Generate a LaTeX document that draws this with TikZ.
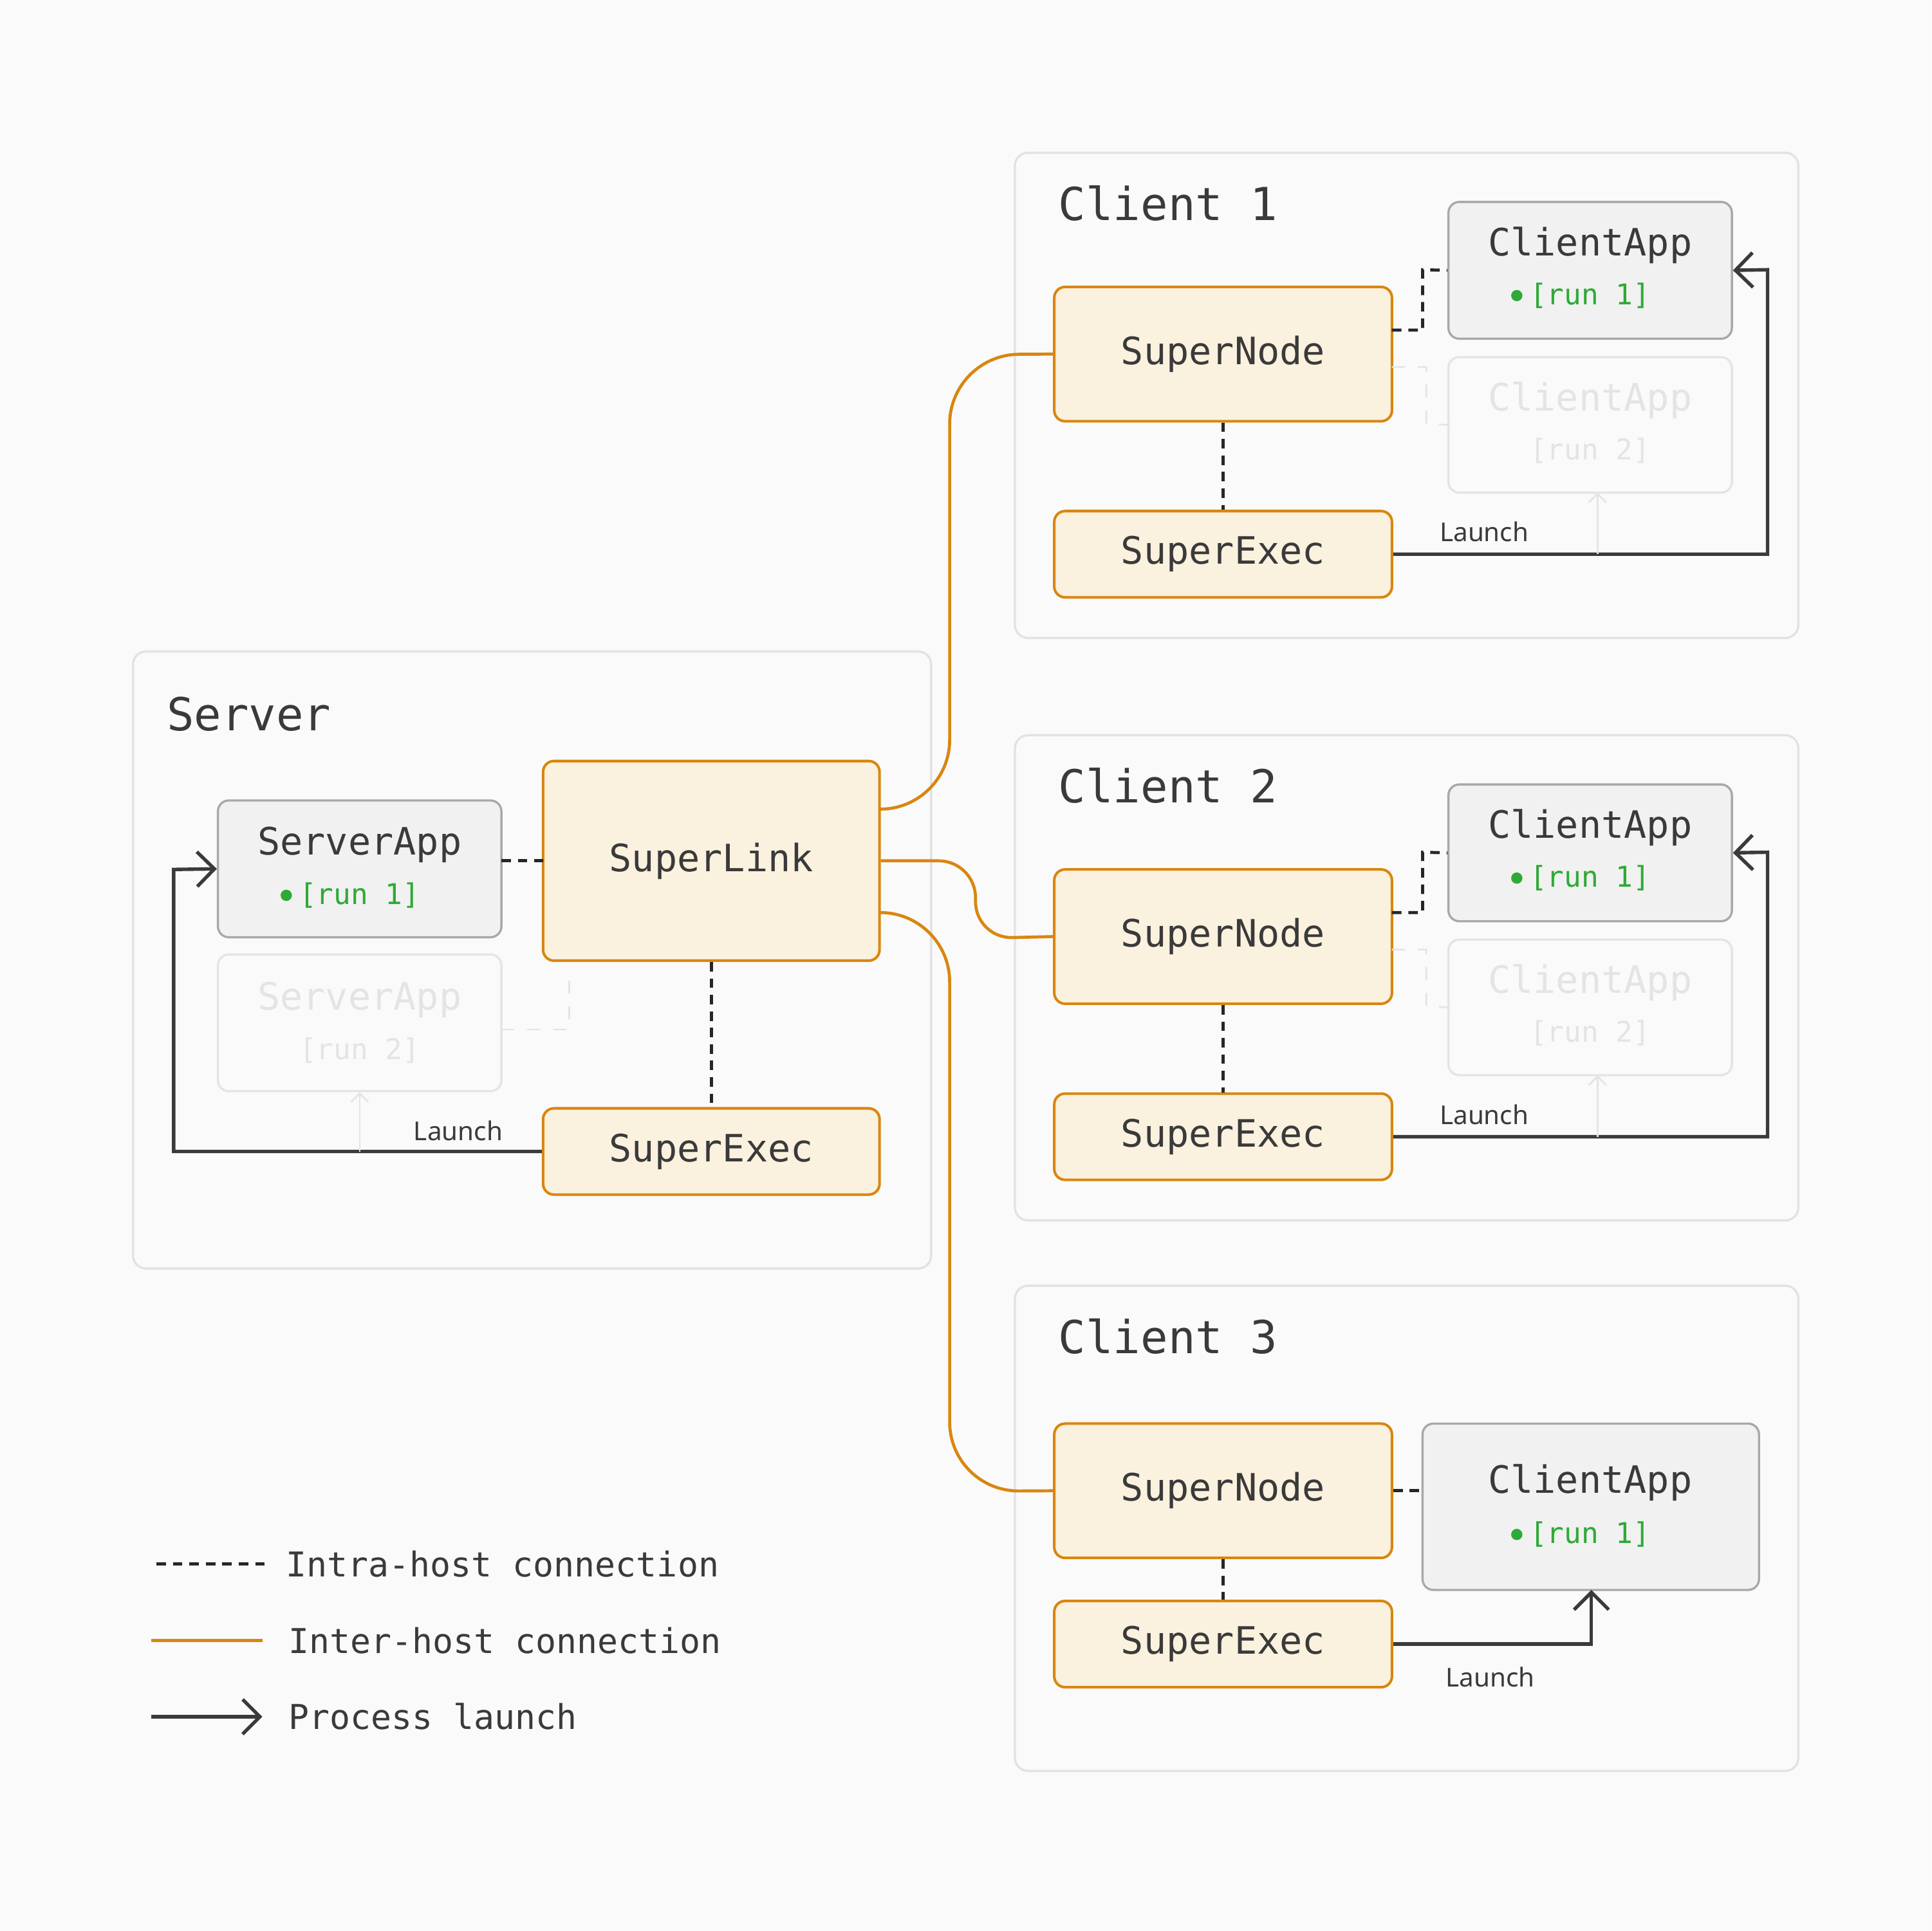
\documentclass[tikz,border=0pt]{standalone}
\usepackage{fontspec}
\setmainfont{DejaVu Sans Mono}
\newfontfamily\launchfont{Noto Sans}
\usetikzlibrary{arrows.meta, positioning}
\definecolor{bgc}{HTML}{FAFAFA}
\definecolor{hostline}{HTML}{E2E2E2}
\definecolor{orng}{HTML}{D9860F}
\definecolor{nodefill}{HTML}{FAF1DF}
\definecolor{appfill}{HTML}{F1F1F1}
\definecolor{appline}{HTML}{A8A8A8}
\definecolor{ink}{HTML}{3A3A3A}
\definecolor{runc}{HTML}{2EAA36}
\definecolor{faded}{HTML}{E4E4E4}
\tikzset{
  host/.style={draw=hostline, fill=bgc, rounded corners=3pt, line width=0.5pt},
  comp/.style={draw=orng, fill=nodefill, rounded corners=2.5pt, line width=0.6pt, font=\fontsize{8.7}{10}\selectfont, text=ink},
  app/.style={draw=appline, fill=appfill, rounded corners=2.5pt, line width=0.5pt},
  oldapp/.style={draw=faded, fill=bgc, rounded corners=2.5pt, line width=0.5pt},
  apptxt/.style={font=\fontsize{8.7}{10}\selectfont, text=ink},
  runtxt/.style={font=\fontsize{6.6}{8}\selectfont, text=runc},
  oldtxt/.style={text=faded},
  title/.style={font=\fontsize{10.5}{12}\selectfont, text=ink, anchor=west},
  intra/.style={dashed, dash pattern=on 2.2pt off 1.6pt, line width=0.7pt, black!85},
  inter/.style={orng, line width=0.7pt},
  launch/.style={ink, line width=0.8pt, -{Straight Barb[length=4pt, width=8pt]}},
  oldintra/.style={faded, dashed, line width=0.4pt},
  oldlaunch/.style={faded, line width=0.4pt, -{Straight Barb[length=2pt, width=4pt]}},
  lab/.style={font=\launchfont\fontsize{6}{7}\selectfont, text=ink}
}
\begin{document}
\begin{tikzpicture}[x=0.01cm, y=-0.01cm]
  \fill[bgc] (0,0) rectangle (1568,1568);
  \useasboundingbox (0,0) rectangle (1568,1568);

  % Server host
  \draw[host] (108,529) rectangle (756,1030);
  \node[title] (srvt) at (123,580) {Server};
  \node[comp, minimum width=2.73cm, minimum height=1.62cm] (slink) at (577.5,699) {SuperLink};
  \node[comp, minimum width=2.73cm, minimum height=0.70cm] (sexec) at (577.5,935) {SuperExec};
  \node[app, minimum width=2.30cm, minimum height=1.11cm] (sapp) at (292,705.5) {};
  \node[apptxt] (sappt) at (292,686) {ServerApp};
  \node[runtxt] (sappr) at (292,727) {[run 1]};
  \fill[runc] ([xshift=0.5pt]sappr.west) circle (1.3pt);
  \node[oldapp, minimum width=2.30cm, minimum height=1.11cm] (sold) at (292,830.5) {};
  \node[apptxt, oldtxt] (soldt) at (292,812) {ServerApp};
  \node[runtxt, oldtxt] (soldr) at (292,853) {[run 2]};
  \coordinate (sa1) at (407,699);
  \coordinate (sa2) at (441,699);
  \coordinate (so1) at (407,836);
  \draw[intra] (sa1) -- (sa2);
  \draw[oldintra] (so1) -- (462,836) -- (462,790);
  \draw[intra] (slink.south) -- (sexec.north);
  \draw[launch] (sexec.west) -- (141,935) -- (141,706) -- (sapp.west);
  \draw[oldlaunch] (292,935) -- (sold.south);
  \node[lab] (slaunch) at (372,918) {Launch};

  % Client hosts 1 and 2
  \foreach \i/\dy in {1/0, 2/473} {
    \begin{scope}[yshift=-\dy*0.01cm]
      \draw[host] (824,124) rectangle (1460,518);
      \node[title] (ct\i) at (847,165) {Client \i};
      \node[comp, minimum width=2.74cm, minimum height=1.09cm] (snode\i) at (993,287.5) {SuperNode};
      \node[comp, minimum width=2.74cm, minimum height=0.70cm] (sexec\i) at (993,450) {SuperExec};
      \node[app, minimum width=2.30cm, minimum height=1.11cm] (capp\i) at (1291,219.5) {};
      \node[apptxt] (cappt\i) at (1291,199) {ClientApp};
      \node[runtxt] (cappr\i) at (1291,240) {[run 1]};
      \fill[runc] ([xshift=0.5pt]cappr\i.west) circle (1.3pt);
      \node[oldapp, minimum width=2.30cm, minimum height=1.10cm] (cold\i) at (1291,345) {};
      \node[apptxt, oldtxt] (coldt\i) at (1291,325) {ClientApp};
      \node[runtxt, oldtxt] (coldr\i) at (1291,366) {[run 2]};
      \draw[intra] (1130,268) -- (1155,268) -- (1155,219) -- (capp\i.west);
      \draw[oldintra] (1130,298) -- (1158,298) -- (1158,344) -- (cold\i.west);
      \draw[intra] (snode\i.south) -- (sexec\i.north);
      \draw[launch] (sexec\i.east) -- (1435,450) -- (1435,219) -- (capp\i.east);
      \draw[oldlaunch] (1297,450) -- (1297,400);
      \node[lab] (cl\i) at (1205,432) {Launch};
    \end{scope}
  }

  % Client host 3
  \draw[host] (824,1044) rectangle (1460,1438);
  \node[title] (ct3) at (847,1085) {Client 3};
  \node[comp, minimum width=2.74cm, minimum height=1.09cm] (snode3) at (993,1210.5) {SuperNode};
  \node[comp, minimum width=2.74cm, minimum height=0.70cm] (sexec3) at (993,1335) {SuperExec};
  \node[app, minimum width=2.73cm, minimum height=1.35cm] (capp3) at (1291.5,1223.5) {};
  \node[apptxt] (cappt3) at (1291,1204) {ClientApp};
  \node[runtxt] (cappr3) at (1291,1246) {[run 1]};
  \fill[runc] ([xshift=0.5pt]cappr3.west) circle (1.3pt);
  \draw[intra] (snode3.east) -- (capp3.west |- snode3.east);
  \draw[intra] (snode3.south) -- (sexec3.north);
  \coordinate (c3a) at (1292,1291);
  \draw[launch] (sexec3.east) -- (1292,1335) -- (c3a);
  \node[lab] (cl3) at (1210,1362) {Launch};

  % inter-host links
  \coordinate (sl1) at (714,657);
  \coordinate (sl3) at (714,741);
  \draw[inter, rounded corners=16pt] (sl1) -- (771,657) -- (771,288) -- (snode1.west);
  \draw[inter, rounded corners=8.5pt] (slink.east) -- (792,699) -- (792,762) -- (snode2.west);
  \draw[inter, rounded corners=16pt] (sl3) -- (771,741) -- (771,1211) -- (snode3.west);

  % legend
  \coordinate (la) at (127,1270); \coordinate (lb) at (215,1270);
  \coordinate (lc) at (123,1332); \coordinate (ld) at (213,1332);
  \coordinate (le) at (123,1394); \coordinate (lf) at (213,1394);
  \draw[intra] (la) -- (lb);
  \draw[inter] (lc) -- (ld);
  \draw[launch] (le) -- (lf);
  \node[apptxt, anchor=west, font=\fontsize{7.9}{9}\selectfont] (l1) at (220,1270) {Intra-host connection};
  \node[apptxt, anchor=west, font=\fontsize{7.9}{9}\selectfont] (l2) at (222,1332) {Inter-host connection};
  \node[apptxt, anchor=west, font=\fontsize{7.9}{9}\selectfont] (l3) at (222,1394) {Process launch};
\end{tikzpicture}
\end{document}
